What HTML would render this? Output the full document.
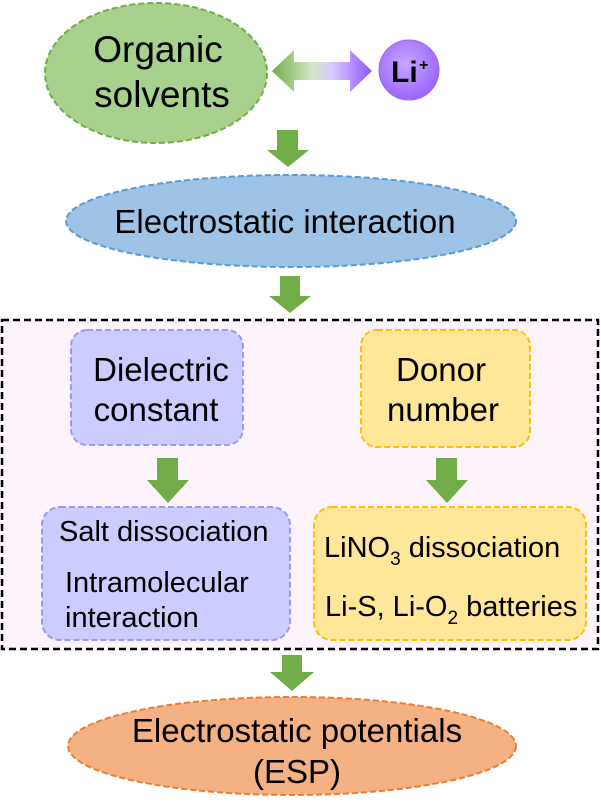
<!DOCTYPE html>
<html><head><meta charset="utf-8"><style>
html,body{margin:0;padding:0;background:#fff}
svg{display:block}
text{font-family:"Liberation Sans",Arial,sans-serif;fill:#000}
</style></head><body>
<svg width="601" height="811" viewBox="0 0 601 811" xmlns="http://www.w3.org/2000/svg">
<defs>
<linearGradient id="g" x1="0" x2="1" y1="0" y2="0">
<stop offset="0" stop-color="#70ad47"/><stop offset="0.4" stop-color="#d5e8c8"/><stop offset="0.6" stop-color="#d8c8ff"/><stop offset="1" stop-color="#9055ff"/>
</linearGradient>
<radialGradient id="li" cx="0.45" cy="0.4" r="0.6">
<stop offset="0" stop-color="#c9a6ff"/><stop offset="1" stop-color="#9966ff"/>
</radialGradient>
</defs>
<ellipse cx="156" cy="73" rx="111" ry="70" fill="#a9d18e" stroke="#70ad47" stroke-width="2" stroke-dasharray="6,3"/>
<text x="158" y="62" font-size="37" text-anchor="middle">Organic</text>
<text x="162" y="107" font-size="37" text-anchor="middle">solvents</text>
<polygon points="272,71 294,50 294,62 350,62 350,50 372,71 350,92 350,80 294,80 294,92" fill="url(#g)"/>
<circle cx="409" cy="70" r="30" fill="url(#li)" stroke="#9a6cf0" stroke-width="1"/>
<text x="391" y="82" font-size="30" font-weight="bold">Li</text>
<text x="419" y="70" font-size="16" font-weight="bold">+</text>
<polygon points="277,130 298,130 298,150 309,150 288,167 267,150 277,150" fill="#70ad47"/>
<ellipse cx="291" cy="221" rx="225" ry="46" fill="#9dc3e6" stroke="#5b9bd5" stroke-width="2" stroke-dasharray="6,3"/>
<text x="285" y="233" font-size="33" text-anchor="middle">Electrostatic interaction</text>
<polygon points="280,276 300,276 300,296 311,296 290,313 269,296 280,296" fill="#70ad47"/>
<rect x="2" y="320" width="596" height="329" fill="#fdf3fd" stroke="#000" stroke-width="2.5" stroke-dasharray="7,4"/>
<rect x="71" y="330" width="172" height="115" rx="16" fill="#ccccff" stroke="#9999ff" stroke-width="2" stroke-dasharray="6,3"/>
<text x="161" y="381" font-size="33" text-anchor="middle">Dielectric</text>
<text x="156" y="421" font-size="33" text-anchor="middle">constant</text>
<rect x="361" y="330" width="169" height="117" rx="16" fill="#ffe699" stroke="#ffc000" stroke-width="2" stroke-dasharray="6,3"/>
<text x="441" y="381" font-size="33" text-anchor="middle">Donor</text>
<text x="443" y="421" font-size="33" text-anchor="middle">number</text>
<polygon points="157,458 178,458 178,480 189,480 168,503 147,480 157,480" fill="#70ad47"/>
<polygon points="436,458 457,458 457,480 468,480 447,503 426,480 436,480" fill="#70ad47"/>
<rect x="42" y="507" width="248" height="133" rx="18" fill="#ccccff" stroke="#9999ff" stroke-width="2" stroke-dasharray="6,3"/>
<text x="59" y="541" font-size="29">Salt dissociation</text>
<text x="65" y="592" font-size="29">Intramolecular</text>
<text x="65" y="627" font-size="29">interaction</text>
<rect x="314" y="507" width="272" height="133" rx="18" fill="#ffe699" stroke="#ffc000" stroke-width="2" stroke-dasharray="6,3"/>
<text x="324" y="557" font-size="29">LiNO<tspan font-size="19" dy="8">3</tspan><tspan dy="-8"> dissociation</tspan></text>
<text x="325" y="616" font-size="29">Li-S, Li-O<tspan font-size="19" dy="8">2</tspan><tspan dy="-8"> batteries</tspan></text>
<polygon points="282,655 302,655 302,672 314,672 292,691 270,672 282,672" fill="#70ad47"/>
<ellipse cx="292" cy="746" rx="224" ry="49" fill="#f4b183" stroke="#ed7d31" stroke-width="2" stroke-dasharray="6,3"/>
<text x="297" y="742" font-size="33" text-anchor="middle">Electrostatic potentials</text>
<text x="297" y="783" font-size="33" text-anchor="middle">(ESP)</text>
</svg>
</body></html>
